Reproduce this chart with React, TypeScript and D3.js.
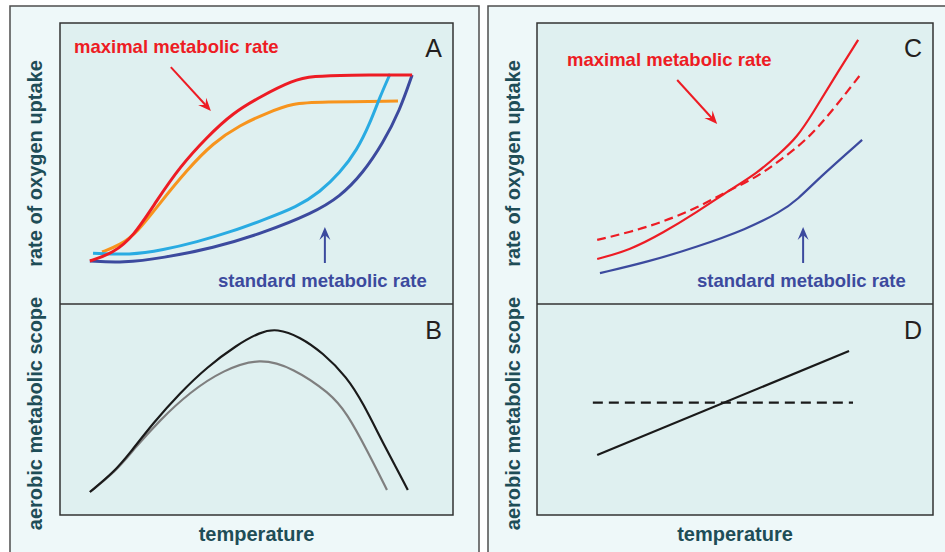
import React from "react";
import * as d3 from "d3";

type P = [number, number];

// Panel A (rate of oxygen uptake vs temperature), domain 0..100
const aMaxRed: P[] = [[7.6,15.3],[13.5,18.1],[18.6,23.8],[24.7,37.0],[30.5,48.8],[37.4,59.4],[44.0,68.0],[50.9,73.7],[59.3,79.7],[64.4,81.1],[73.0,81.5],[89.6,81.5]];
const aMaxOrange: P[] = [[10.7,18.5],[15.3,21.0],[19.6,25.3],[25.4,35.9],[32.3,47.7],[38.9,57.3],[45.8,63.7],[52.7,68.0],[59.3,71.5],[66.2,71.9],[86.0,72.2]];
const aStdLight: P[] = [[8.4,18.1],[17.8,17.4],[26.2,19.2],[34.9,22.1],[43.3,25.6],[51.7,29.9],[60.3,34.5],[66.2,39.9],[71.2,46.6],[75.6,54.8],[78.9,64.4],[81.4,73.7],[84.0,81.9]];
const aStdDark: P[] = [[7.6,15.3],[16.0,14.6],[26.2,16.4],[38.9,19.9],[51.7,25.3],[64.4,32.4],[71.2,38.1],[77.1,46.6],[82.2,57.3],[86.5,69.0],[89.6,81.5]];
// Panel B (aerobic scope)
const bBlack: P[] = [[7.6,10.9],[13.5,19.9],[17.8,29.4],[23.7,43.6],[30.5,57.8],[37.4,70.1],[45.0,80.6],[50.9,86.7],[55.2,88.4],[61.1,84.4],[66.9,76.8],[73.0,65.4],[77.1,53.1],[82.2,34.1],[88.5,11.9]];
const bGrey: P[] = [[7.6,10.9],[14.5,21.3],[18.6,30.8],[25.4,45.0],[33.1,58.3],[41.5,68.7],[50.9,74.6],[59.3,69.7],[68.7,57.8],[73.0,48.3],[78.1,30.8],[83.2,11.9]];
// Panel C
const cMaxSolid: P[] = [[15.2,16.0],[23.5,19.2],[31.8,25.3],[40.4,32.7],[48.7,40.6],[55.6,46.6],[61.4,53.7],[65.7,59.4],[69.7,68.0],[74.7,79.7],[81.1,94.0]];
const cMaxDashed: P[] = [[15.2,22.8],[23.5,25.6],[31.8,29.2],[40.4,34.2],[48.7,40.6],[55.6,45.2],[61.4,51.2],[68.2,58.4],[74.7,69.0],[81.6,81.5]];
const cStd: P[] = [[15.9,11.0],[27.8,14.9],[40.4,20.3],[53.0,26.7],[61.4,32.7],[65.7,37.0],[71.5,45.2],[82.1,58.4]];
// Panel D
const dSolid: P[] = [[15.2,28.4],[78.8,77.7]];
const dDashed: P[] = [[14.1,53.3],[79.8,53.3]];

// annotation arrows [from, to]
const arrowMaxA: P[] = [[28.2,84.3],[38.4,68.7]];
const arrowStdA: P[] = [[67.4,14.6],[67.4,27.4]];
const arrowMaxC: P[] = [[35.4,79.7],[45.5,64.1]];
const arrowStdC: P[] = [[67.2,14.6],[67.2,27.4]];

const RED = "#ed1c24";
const ORANGE = "#f7941d";
const LBLUE = "#29abe2";
const DBLUE = "#3c4a9e";
const TEAL = "#1e4d57";
const LABEL_FONT = "'Liberation Sans', Arial, sans-serif";

const line = (x: d3.ScaleLinear<number, number>, y: d3.ScaleLinear<number, number>) =>
  d3.line<P>().x((d) => x(d[0])).y((d) => y(d[1])).curve(d3.curveBasis);

function Arrow({ pts, x, y, color }: { pts: P[]; x: any; y: any; color: string }) {
  const x1 = x(pts[0][0]), y1 = y(pts[0][1]), x2 = x(pts[1][0]), y2 = y(pts[1][1]);
  const ang = Math.atan2(y2 - y1, x2 - x1);
  const L = 13, W = 5.5, N = 8;
  const bx = x2 - L * Math.cos(ang), by = y2 - L * Math.sin(ang);
  const nx = x2 - N * Math.cos(ang), ny = y2 - N * Math.sin(ang);
  const px = -Math.sin(ang), py = Math.cos(ang);
  const head = `M${x2},${y2} L${bx + px * W},${by + py * W} L${nx},${ny} L${bx - px * W},${by - py * W} Z`;
  return (
    <g>
      <line x1={x1} y1={y1} x2={nx} y2={ny} stroke={color} strokeWidth={2} />
      <path d={head} fill={color} />
    </g>
  );
}

function Panel({ ox, inner, letters, top, bottom, labels }: any) {
  const { l, r, t, m, b } = inner;
  const x = d3.scaleLinear().domain([0, 100]).range([l, r]);
  const yT = d3.scaleLinear().domain([0, 100]).range([m, t]);
  const yB = d3.scaleLinear().domain([0, 100]).range([b, m]);
  const lt = line(x, yT);
  const lb = line(x, yB);
  return (
    <g>
      <rect x={ox.l} y={ox.t} width={ox.r - ox.l} height={ox.b - ox.t} fill="#eef8f9" stroke="#4d4d4d" strokeWidth={1.5} />
      <rect x={l} y={t} width={r - l} height={b - t} fill="#dff0f0" stroke="#333" strokeWidth={1.5} />
      <line x1={l} x2={r} y1={m} y2={m} stroke="#333" strokeWidth={1.5} />
      {top.map((s: any, i: number) => (
        <path key={"t" + i} d={lt(s.data) || ""} fill="none" stroke={s.color} strokeWidth={s.w} strokeDasharray={s.dash || null} />
      ))}
      {bottom.map((s: any, i: number) => (
        <path key={"b" + i} d={lb(s.data) || ""} fill="none" stroke={s.color} strokeWidth={s.w} strokeDasharray={s.dash || null} />
      ))}
      <Arrow pts={labels.arrowMax} x={x} y={yT} color={RED} />
      <Arrow pts={labels.arrowStd} x={x} y={yT} color={DBLUE} />
      <text x={labels.maxX} y={labels.maxY} fill={RED} fontFamily={LABEL_FONT} fontWeight="bold" fontSize={18.5}>maximal metabolic rate</text>
      <text x={labels.stdX} y={287} fill={DBLUE} fontFamily={LABEL_FONT} fontWeight="bold" fontSize={18.5}>standard metabolic rate</text>
      <text x={r - 11} y={57} textAnchor="end" fill="#231f20" fontFamily={LABEL_FONT} fontSize={25}>{letters[0]}</text>
      <text x={r - 11} y={339} textAnchor="end" fill="#231f20" fontFamily={LABEL_FONT} fontSize={25}>{letters[1]}</text>
      <text transform={`translate(${ox.l + 32},${(t + m) / 2}) rotate(-90)`} textAnchor="middle" fill={TEAL} fontFamily={LABEL_FONT} fontWeight="bold" fontSize={20}>rate of oxygen uptake</text>
      <text transform={`translate(${ox.l + 32},${(m + b) / 2 + 4}) rotate(-90)`} textAnchor="middle" fill={TEAL} fontFamily={LABEL_FONT} fontWeight="bold" fontSize={20}>aerobic metabolic scope</text>
      <text x={(l + r) / 2} y={541} textAnchor="middle" fill={TEAL} fontFamily={LABEL_FONT} fontWeight="bold" fontSize={20}>temperature</text>
    </g>
  );
}

export default function App() {
  return (
    <svg width={945} height={552} style={{ position: "absolute", left: 0, top: 0, background: "#fff" }}>
      <Panel
        ox={{ l: 10, r: 479, t: 6, b: 560 }}
        inner={{ l: 60, r: 453, t: 23, m: 304, b: 515 }}
        letters={["A", "B"]}
        top={[
          { data: aMaxOrange, color: ORANGE, w: 3 },
          { data: aStdLight, color: LBLUE, w: 3 },
          { data: aStdDark, color: DBLUE, w: 3 },
          { data: aMaxRed, color: RED, w: 3 },
        ]}
        bottom={[
          { data: bGrey, color: "#7f7f7f", w: 2.2 },
          { data: bBlack, color: "#1a1a1a", w: 2.2 },
        ]}
        labels={{ arrowMax: arrowMaxA, arrowStd: arrowStdA, maxX: 74, maxY: 53, stdX: 218 }}
      />
      <Panel
        ox={{ l: 488, r: 960, t: 6, b: 560 }}
        inner={{ l: 537, r: 933, t: 23, m: 304, b: 515 }}
        letters={["C", "D"]}
        top={[
          { data: cStd, color: DBLUE, w: 2.2 },
          { data: cMaxDashed, color: RED, w: 2.2, dash: "9,5" },
          { data: cMaxSolid, color: RED, w: 2.2 },
        ]}
        bottom={[
          { data: dDashed, color: "#1a1a1a", w: 2.2, dash: "10,6" },
          { data: dSolid, color: "#1a1a1a", w: 2.2 },
        ]}
        labels={{ arrowMax: arrowMaxC, arrowStd: arrowStdC, maxX: 567, maxY: 66, stdX: 697 }}
      />
    </svg>
  );
}
